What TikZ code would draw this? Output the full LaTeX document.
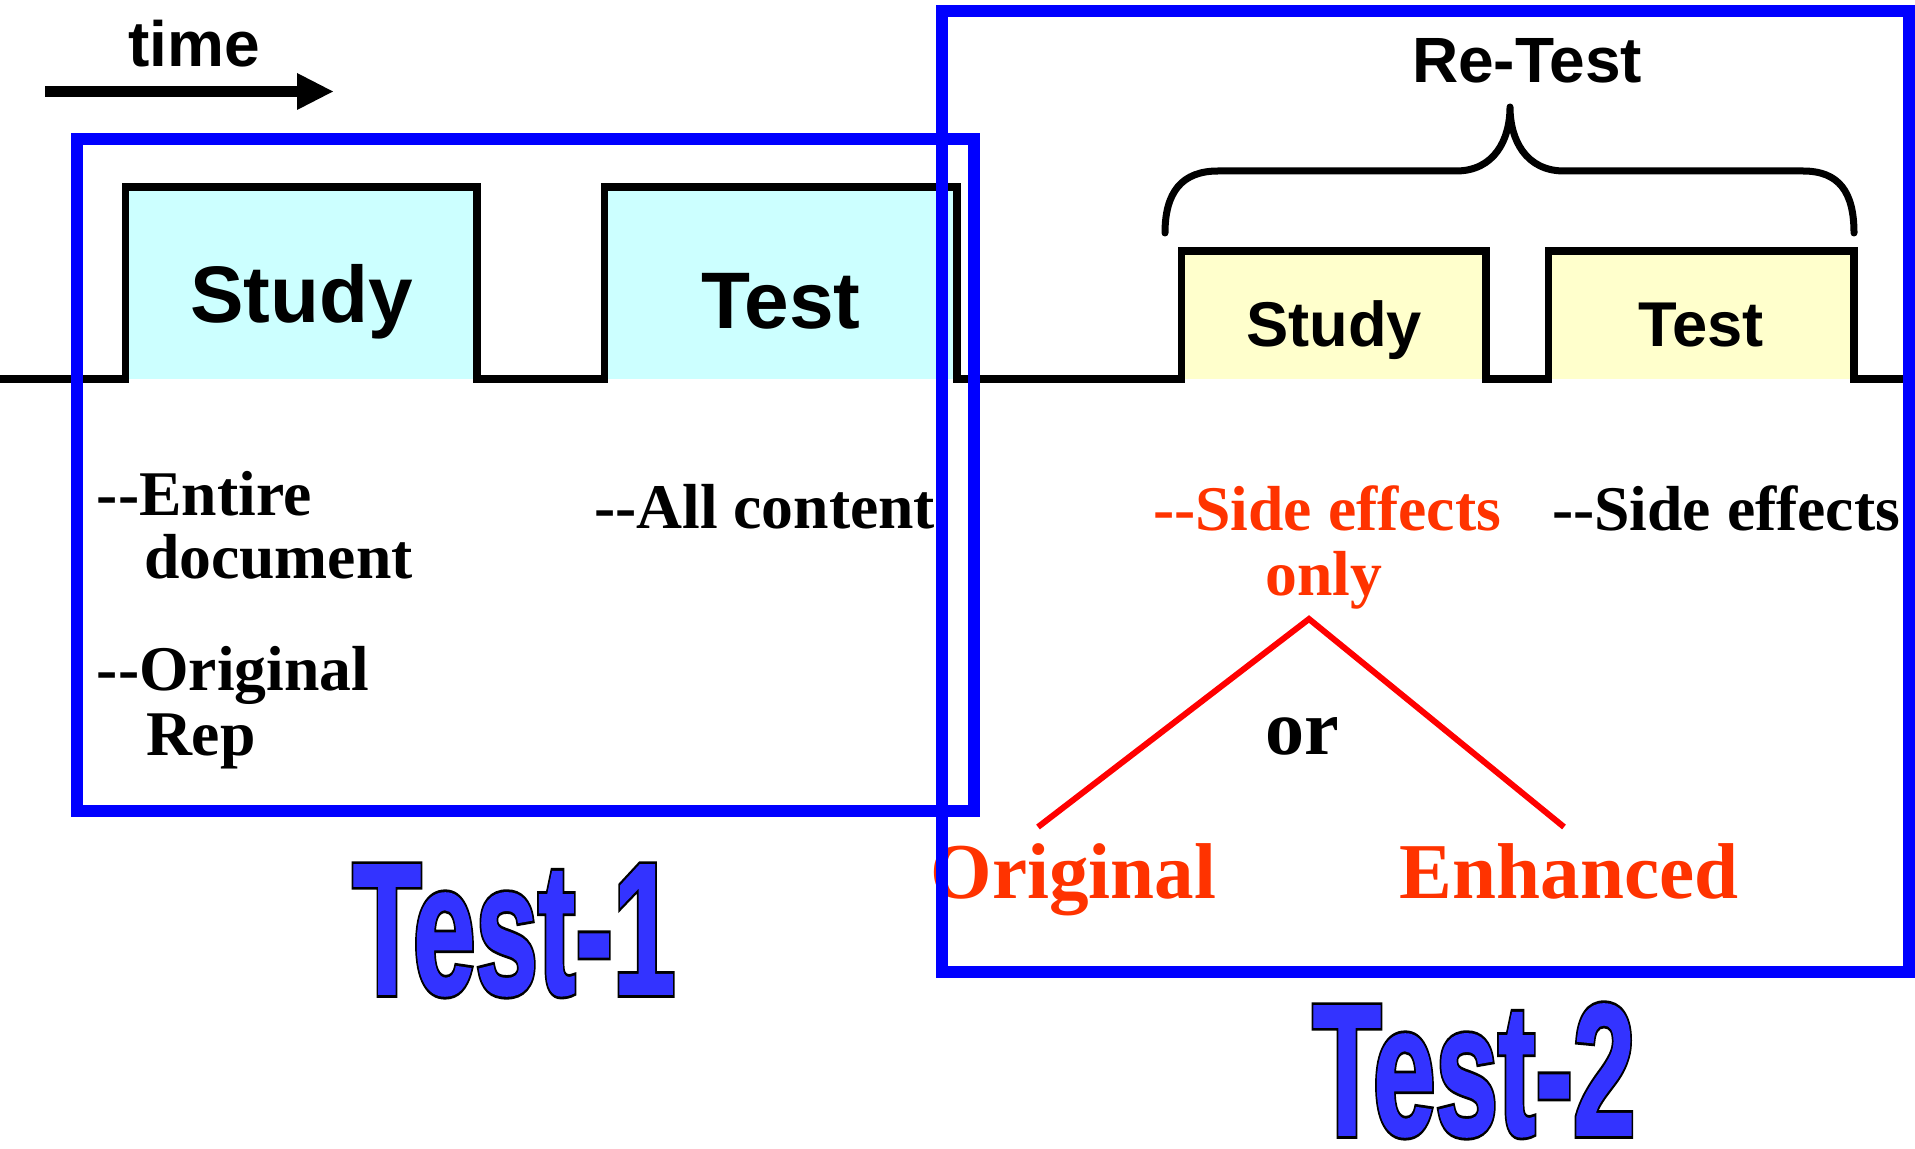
\documentclass[tikz,border=0pt]{standalone}
\usepackage{fontspec}
\usepackage{graphicx}
\setmainfont{Liberation Serif}
\newfontfamily\sansb{Liberation Sans Bold}
\newfontfamily\serifb{Liberation Serif Bold}
\newfontfamily\impk[FakeBold=4]{Liberation Sans Bold}
\newfontfamily\impb[FakeBold=1]{Liberation Sans Bold}
\definecolor{boxblue}{HTML}{0000FF}
\definecolor{txtblue}{HTML}{3333FF}
\definecolor{redtxt}{HTML}{FF3300}
\definecolor{redline}{HTML}{FF0000}
\definecolor{cyanfill}{HTML}{CCFFFF}
\definecolor{yelfill}{HTML}{FFFFCC}
\tikzset{
  lbl/.style={inner sep=0pt, outer sep=0pt, anchor=base},
  lblw/.style={inner sep=0pt, outer sep=0pt, anchor=base west},
  wave/.style={line width=7.5*0.01cm, black, line join=miter},
  bluebox/.style={draw=boxblue, line width=12*0.01cm},
  redconn/.style={draw=redline, line width=6*0.01cm},
  bigsans/.style={font=\sansb\fontsize{22.8pt}{22.8pt}\selectfont},
  smallsans/.style={font=\sansb\fontsize{18pt}{18pt}\selectfont},
  serifl/.style={font=\serifb\fontsize{18.1pt}{18.1pt}\selectfont},
  serifL/.style={font=\serifb\fontsize{22.5pt}{22.5pt}\selectfont},
}
\begin{document}
\begin{tikzpicture}[x=0.01cm, y=-0.01cm]
\useasboundingbox (0,0) rectangle (1915,1149);
% fills
\fill[cyanfill] (125.5,187) rectangle (477,379);
\fill[cyanfill] (604.5,187) rectangle (957,379);
\fill[yelfill] (1181.5,251) rectangle (1486,379);
\fill[yelfill] (1548.6,251) rectangle (1854,379);
% waveform
\draw[wave] (0,379) -- (125.5,379) -- (125.5,187) -- (477,187) -- (477,379)
  -- (604.5,379) -- (604.5,187) -- (957,187) -- (957,379) -- (1181.5,379)
  -- (1181.5,251) -- (1486,251) -- (1486,379) -- (1548.6,379) -- (1548.6,251)
  -- (1854,251) -- (1854,379) -- (1915,379);
% time arrow
\coordinate (tstart) at (45,91.5);
\coordinate (tbase) at (299,91.5);
\coordinate (ttip) at (333,91.5);
\draw[line width=11*0.01cm] (tstart) -- (tbase);
\fill (297,73) -- (ttip) -- (297,110) -- cycle;
\node[lbl, font=\sansb\fontsize{18.2pt}{18.2pt}\selectfont] (time) at (194,67) {time};
% brace
\draw[line width=7*0.01cm, line cap=round, line join=round]
  (1165,233) .. controls (1165,192) and (1182,171) .. (1218,171)
  -- (1456,171) .. controls (1494,171) and (1510,140) .. (1510,107)
  .. controls (1510,140) and (1526,171) .. (1564,171)
  -- (1803,171) .. controls (1839,171) and (1854,192) .. (1854,233);
\node[lbl, font=\sansb\fontsize{18.2pt}{18.2pt}\selectfont] (retest) at (1527,83) {Re-Test};
% box labels
\node[lbl, bigsans] (study1) at (301.7,323) {Study};
\node[lbl, bigsans] (test1) at (781,329) {Test};
\node[lbl, smallsans] (study2) at (1334,347) {Study};
\node[lbl, smallsans] (test2) at (1701,347) {Test};
% serif labels
\node[lblw, serifl] (entire) at (97,515) {--Entire};
\node[lblw, serifl] (document) at (144,578) {document};
\node[lblw, serifl] (orig) at (97,690) {--Original};
\node[lblw, serifl] (rep) at (146,755) {Rep};
\node[lblw, serifl] (allc) at (594,528) {--All content};
\node[lblw, serifl, text=redtxt] (side1) at (1153,531) {--Side effects};
\node[lbl, serifl, text=redtxt] (only) at (1324,595) {only};
\node[lblw, serifl] (side2) at (1552,531) {--Side effects};
\node[lbl, font=\serifb\fontsize{22.2pt}{22.2pt}\selectfont] (or) at (1302,754) {or};
\node[lbl, serifL, text=redtxt] (original) at (1073.5,898) {Original};
\node[lbl, serifL, text=redtxt] (enhanced) at (1569,898) {Enhanced};
% red connectors
\coordinate (apex) at (1309,619);
\coordinate (lend) at (1038,827);
\coordinate (rend) at (1564,827);
\draw[redconn] (lend) -- (apex) -- (rend);
% blue boxes
\draw[bluebox] (77,139) rectangle (973.5,810.5);
\draw[bluebox] (941.5,11) rectangle (1909,972);
% big titles
\node[lbl, font=\impk\fontsize{53.3pt}{53.3pt}\selectfont, text=black] (t1k) at (514,994) {\scalebox{0.6}[1]{Test-1}};
\node[lbl, font=\impb\fontsize{53.3pt}{53.3pt}\selectfont, text=txtblue] (t1b) at (514,994) {\scalebox{0.6}[1]{Test-1}};
\node[lbl, font=\impk\fontsize{53.3pt}{53.3pt}\selectfont, text=black] (t2k) at (1474,1135) {\scalebox{0.6}[1]{Test-2}};
\node[lbl, font=\impb\fontsize{53.3pt}{53.3pt}\selectfont, text=txtblue] (t2b) at (1474,1135) {\scalebox{0.6}[1]{Test-2}};
\end{tikzpicture}
\end{document}
